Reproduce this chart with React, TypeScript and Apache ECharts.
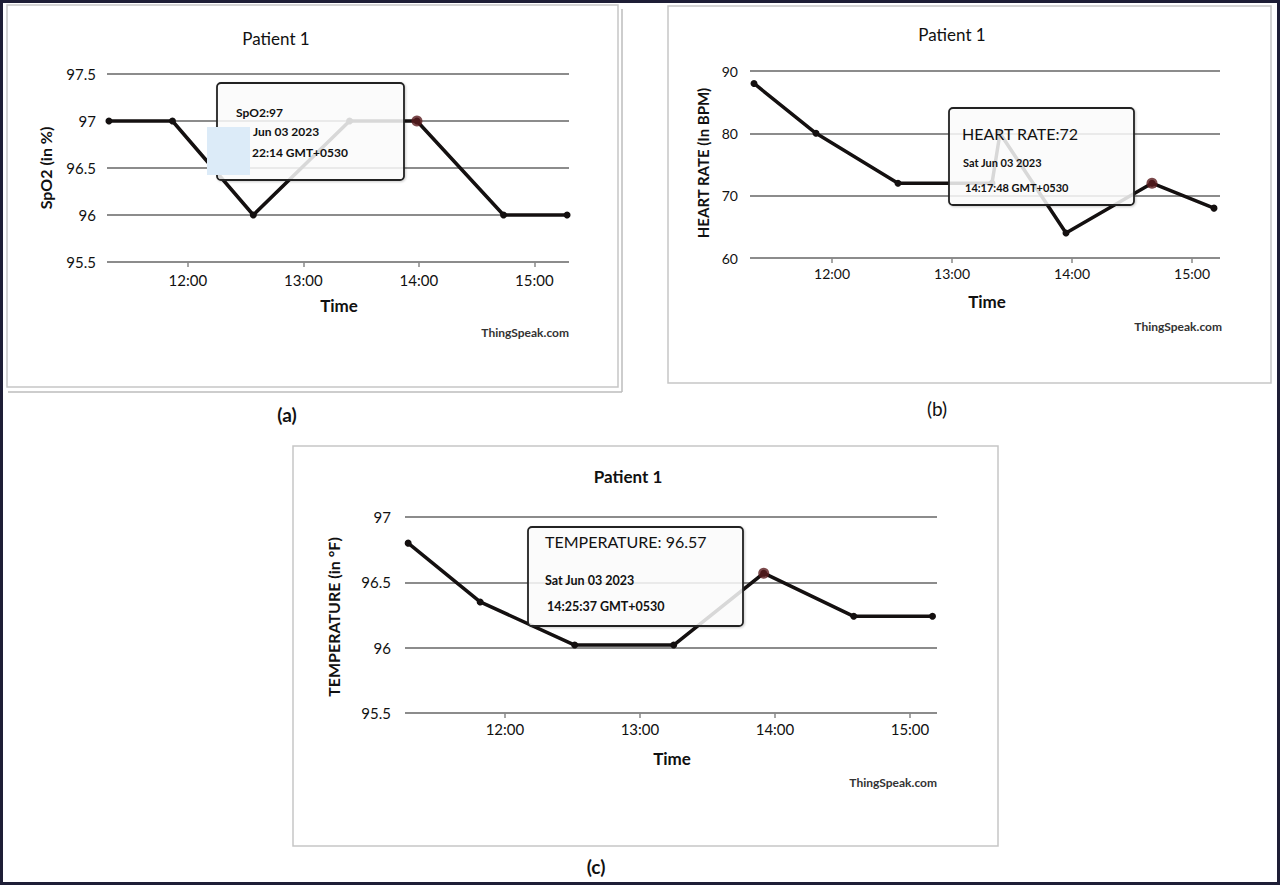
import React, { useEffect, useRef } from "react";
import * as echarts from "echarts";

// ---------- data ----------
const xTickLabels = ["12:00", "13:00", "14:00", "15:00"];

const spo2Ticks = [95.5, 96, 96.5, 97, 97.5];
const spo2Times = ["11:19", "11:52", "12:34", "13:24", "13:59", "14:44", "15:17"];
const spo2Values = [97, 97, 96, 97, 97, 96, 96];
const spo2Hover = 4;

const hrTicks = [60, 70, 80, 90];
const hrTimes = ["11:21", "11:52", "12:33", "13:20", "13:24", "13:57", "14:40", "15:11"];
const hrValues = [88, 80, 72, 72, 80, 64, 72, 68];
const hrHover = 6;

const tempTicks = [95.5, 96, 96.5, 97];
const tempTimes = ["11:17", "11:49", "12:31", "13:15", "13:55", "14:35", "15:10"];
const tempValues = [96.8, 96.35, 96.02, 96.02, 96.57, 96.24, 96.24];
const tempHover = 4;

// x ranges (minutes since midnight)
const rangeA = ["11:18", "15:18"];
const rangeB = ["11:19", "15:14"];
const rangeC = ["11:15.6", "15:12"];

// ---------- helpers ----------
const toMin = (s: string) => {
  const [h, m] = s.split(":").map(Number);
  return h * 60 + m;
};
const fmt = (v: number) => `${Math.floor(v / 60)}:${String(Math.round(v % 60)).padStart(2, "0")}`;
const FONT = 'Lato, "Open Sans", "Liberation Sans", sans-serif';
const LINE = "#141010";
const GRIDC = "#8c8c8c";
const TXT = "#111111";

function xAxisFor(gridIndex: number, range: string[], fontSize: number, margin: number) {
  const ticks = xTickLabels.map(toMin);
  return {
    type: "value",
    gridIndex,
    min: toMin(range[0]),
    max: toMin(range[1]),
    axisLine: { show: false },
    axisTick: { show: true, customValues: ticks, length: 5, lineStyle: { color: "#888", width: 1.5 } },
    axisLabel: { customValues: ticks, formatter: fmt, color: TXT, fontSize, margin, fontFamily: FONT },
    splitLine: { show: false },
  };
}

function yAxisFor(gridIndex: number, ticks: number[], fontSize: number, margin: number) {
  return {
    type: "value",
    gridIndex,
    min: ticks[0],
    max: ticks[ticks.length - 1],
    interval: ticks[1] - ticks[0],
    axisLine: { show: false },
    axisTick: { show: false },
    axisLabel: { color: TXT, fontSize, margin, fontFamily: FONT },
    splitLine: { show: true, lineStyle: { color: GRIDC, width: 2 } },
  };
}

function seriesFor(idx: number, times: string[], values: number[], hover: number) {
  const data = times.map((t, k) => [toMin(t), values[k]]);
  return [
    {
      type: "line",
      xAxisIndex: idx,
      yAxisIndex: idx,
      data,
      symbol: "circle",
      symbolSize: 7,
      lineStyle: { color: LINE, width: 3.5 },
      itemStyle: { color: LINE },
      z: 3,
    },
    {
      type: "scatter",
      xAxisIndex: idx,
      yAxisIndex: idx,
      data: [data[hover]],
      symbolSize: 11,
      itemStyle: { color: "#5a1c1e" },
      z: 4,
    },
  ];
}

function txt(text: string, x: number, y: number, fontSize: number, opts: any = {}) {
  return {
    type: "text",
    x,
    y,
    rotation: opts.rotation || 0,
    z: 100,
    style: {
      text,
      fill: opts.fill || TXT,
      fontSize,
      fontWeight: opts.bold ? "bold" : "normal",
      fontFamily: FONT,
      align: opts.align || "center",
      verticalAlign: "middle",
    },
  };
}

function rect(x: number, y: number, w: number, h: number, style: any, z = 1, r = 0) {
  return { type: "rect", shape: { x, y, width: w, height: h, r }, style, z };
}

function line(x1: number, y1: number, x2: number, y2: number, stroke: string, lw: number, z = 1) {
  return { type: "line", shape: { x1, y1, x2, y2 }, style: { stroke, lineWidth: lw }, z };
}

const TIP = { fill: "rgba(255,255,255,0.82)", stroke: "#222", lineWidth: 1.8, shadowBlur: 2, shadowColor: "rgba(0,0,0,0.2)", shadowOffsetX: 1, shadowOffsetY: 1 };

export default function App() {
  const ref = useRef<HTMLDivElement>(null);
  useEffect(() => {
    if (!ref.current) return;
    const chart = echarts.init(ref.current, undefined, { renderer: "svg" });
    const panelStroke = { fill: "none", stroke: "#c6c6c6", lineWidth: 1.5 };
    const option: any = {
      animation: false,
      backgroundColor: "#ffffff",
      grid: [
        { left: 107, top: 74, width: 462, height: 188 },
        { left: 750, top: 71, width: 470, height: 187 },
        { left: 405, top: 517, width: 532, height: 196 },
      ],
      xAxis: [xAxisFor(0, rangeA, 15, 10), xAxisFor(1, rangeB, 14, 8), xAxisFor(2, rangeC, 15, 8)],
      yAxis: [yAxisFor(0, spo2Ticks, 15, 11), yAxisFor(1, hrTicks, 14, 12), yAxisFor(2, tempTicks, 15, 14)],
      series: [
        ...seriesFor(0, spo2Times, spo2Values, spo2Hover),
        ...seriesFor(1, hrTimes, hrValues, hrHover),
        ...seriesFor(2, tempTimes, tempValues, tempHover),
      ],
      graphic: {
        elements: [
          // outer frame
          rect(1.5, 1.5, 1277, 882, { fill: "none", stroke: "#1e1e36", lineWidth: 3 }, 120),
          // panel borders
          rect(7, 5, 611, 382, panelStroke, 0),
          line(622, 9, 622, 392, "#bdbdbd", 1.5, 0),
          line(8, 392, 622, 392, "#bdbdbd", 1.5, 0),
          rect(668, 6, 603, 377, panelStroke, 0),
          rect(293, 446, 705, 400, panelStroke, 0),

          // panel (a) texts
          txt("Patient 1", 276, 38, 17),
          txt("Time", 339, 305, 17, { bold: true }),
          txt("SpO2 (in %)", 45, 168, 16, { bold: true, rotation: Math.PI / 2 }),
          txt("ThingSpeak.com", 569, 332, 12, { bold: true, align: "right", fill: "#333" }),
          txt("(a)", 287, 414, 19, { bold: true }),

          // panel (b) texts
          txt("Patient 1", 952, 34, 17),
          txt("Time", 987, 301, 17, { bold: true }),
          txt("HEART RATE (In BPM)", 703, 163, 15, { bold: true, rotation: Math.PI / 2 }),
          txt("ThingSpeak.com", 1222, 326, 12, { bold: true, align: "right", fill: "#333" }),
          txt("(b)", 937, 408, 19),

          // panel (c) texts
          txt("Patient 1", 628, 476, 17, { bold: true }),
          txt("Time", 672, 758, 17, { bold: true }),
          txt("TEMPERATURE (in °F)", 333, 617, 16, { bold: true, rotation: Math.PI / 2 }),
          txt("ThingSpeak.com", 937, 782, 12, { bold: true, align: "right", fill: "#333" }),
          txt("(c)", 596, 866, 19, { bold: true }),

          // tooltip (a)
          rect(217, 83, 187, 97, TIP, 90, 4),
          txt("SpO2:97", 236, 112, 12, { align: "left", bold: true }),
          txt("Jun 03 2023", 253, 131, 12, { align: "left", bold: true }),
          txt("22:14 GMT+0530", 252, 152, 12, { align: "left", bold: true }),
          rect(207, 127, 43, 48, { fill: "#dcebf8" }, 110),

          // tooltip (b)
          rect(949, 108, 185, 97, TIP, 90, 4),
          txt("HEART RATE:72", 962, 133, 16, { align: "left" }),
          txt("Sat Jun 03 2023", 963, 162, 11, { align: "left", bold: true }),
          txt("14:17:48 GMT+0530", 965, 187, 11, { align: "left", bold: true }),

          // tooltip (c)
          rect(528, 527, 215, 99, TIP, 90, 4),
          txt("TEMPERATURE: 96.57", 545, 541, 16, { align: "left" }),
          txt("Sat Jun 03 2023", 545, 580, 12.5, { align: "left", bold: true }),
          txt("14:25:37 GMT+0530", 547, 606, 12.5, { align: "left", bold: true }),
        ],
      },
    };
    chart.setOption(option);
    return () => chart.dispose();
  }, []);
  return (
    <div
      ref={ref}
      style={{ position: "absolute", left: 0, top: 0, width: 1280, height: 885, background: "#fff" }}
    />
  );
}
